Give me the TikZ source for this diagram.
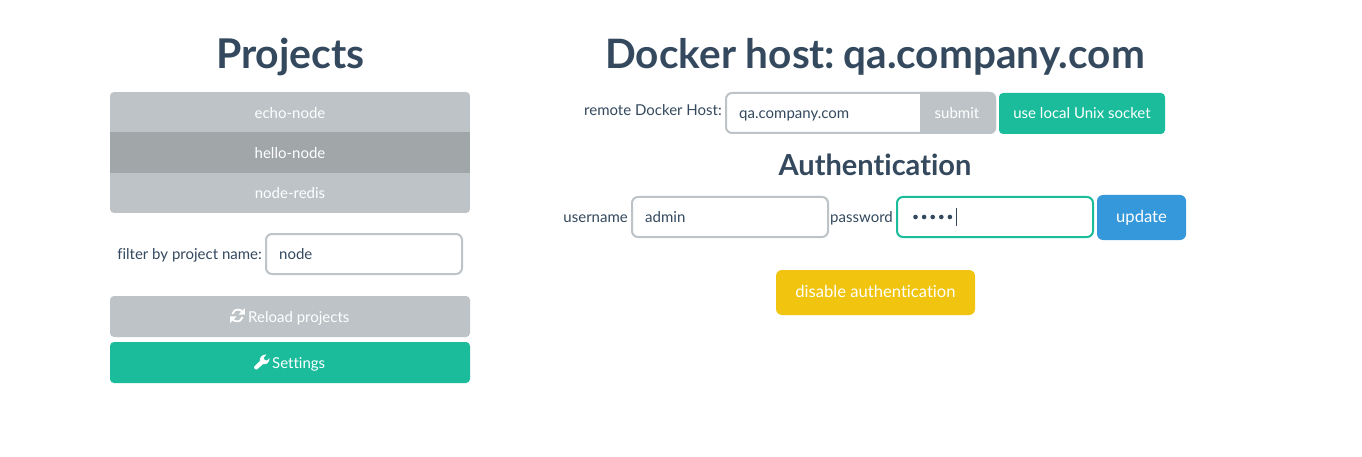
\documentclass[tikz,border=0pt]{standalone}
\usepackage{fontspec}
\setmainfont{Lato}[Ligatures=NoCommon]
\definecolor{ink}{HTML}{34495E}
\definecolor{silver}{HTML}{BDC3C7}
\definecolor{silverdark}{HTML}{A1A6A9}
\definecolor{teal}{HTML}{1ABC9C}
\definecolor{bluebtn}{HTML}{3498DB}
\definecolor{yellowbtn}{HTML}{F1C40F}
\tikzset{
  x=1pt,y=-1pt,
  sized/.style 2 args={minimum width=#1pt,minimum height=#2pt,inner sep=0pt,outer sep=0pt},
  strut/.style={text height=1.14em,text depth=0.08em},
  title/.style={text=ink,font=\bfseries\fontsize{40.5}{48}\selectfont,inner sep=0pt},
  subtitle/.style={text=ink,font=\bfseries\fontsize{29}{35}\selectfont,inner sep=0pt},
  lab/.style={text=ink,font=\fontsize{15}{18}\selectfont,inner sep=0pt,strut},
  btn/.style={rounded corners=4pt,text=white,font=\fontsize{15}{18}\selectfont,strut},
  bigbtn/.style={rounded corners=6pt,text=white,font=\fontsize{16.6}{20}\selectfont,strut},
  field/.style={draw=silver,line width=2pt,fill=white,rounded corners=6pt},
  rowtext/.style={text=white,font=\fontsize{15}{18}\selectfont,inner sep=0pt,strut},
  val/.style={text=ink,font=\fontsize{15}{18}\selectfont,inner sep=0pt,strut,anchor=west},
}
\begin{document}
\begin{tikzpicture}
\useasboundingbox (0,0) rectangle (1362,457);
\fill[white] (0,0) rectangle (1362,457);

\node[title,font=\bfseries\fontsize{41}{48}\selectfont] (projects) at (290.5,57) {Projects};
\node[title] (docker) at (875,57) {Docker host:\hspace{-5pt} qa.company.com};
\node[subtitle] (auth) at (875,165) {Authentication};

% project list
\begin{scope}
\clip[rounded corners=4pt] (110,92) rectangle (470,213);
\fill[silver] (110,92) rectangle (470,132);
\fill[silverdark] (110,132) rectangle (470,173);
\fill[silver] (110,173) rectangle (470,213);
\end{scope}
\node[rowtext] (echo) at (290,113) {echo-node};
\node[rowtext] (hello) at (290,153) {hello-node};
\node[rowtext] (redis) at (290,193) {node-redis};

% filter
\node[lab,anchor=east] (filterlab) at (262,254) {filter by project name:};
\node[field,sized={196}{40},anchor=west] (filter) at (266,254) {};
\node[val] (filterval) at (279,254) {node};

% buttons
\node[btn,fill=silver,sized={360}{41}] (reload) at (290,316.5) {};
\node[rowtext,anchor=west] (reloadtxt) at (248,317) {Reload projects};
\begin{scope}[shift={(237.5,315.5)},white]
  \draw[line width=1.9pt] (5.2,-3.4) arc[start angle=-35,end angle=-165,radius=5.8];
  \draw[line width=1.9pt] (-5.2,3.4) arc[start angle=145,end angle=15,radius=5.8];
  \fill (7.3,-7.3) -- (7.3,-0.9) -- (0.9,-0.9) -- cycle;
  \fill (-7.3,7.3) -- (-7.3,0.9) -- (-0.9,0.9) -- cycle;
\end{scope}

\node[btn,fill=teal,sized={360}{41}] (settings) at (290,362.5) {};
\node[rowtext,anchor=west] (settingstxt) at (272,363) {Settings};
\begin{scope}[shift={(261.5,361.5)},white]
  \fill[line join=round] (-7.5,5.3) -- (-1.6,-0.6) .. controls (-2.2,-3.8) and (0.5,-7.4) .. (5.2,-7.0)
     -- (2.4,-4.2) -- (3.0,-1.6) -- (5.6,-1.0) -- (8.0,-3.6)
     .. controls (8.4,1.2) and (4.4,3.6) .. (1.6,2.6) -- (-4.6,8.0) .. controls (-5.6,8.8) and (-8.6,6.6) .. (-7.5,5.3) -- cycle;
\end{scope}

% remote host
\node[lab,anchor=east] (remotelab) at (722,110) {remote Docker Host:};
\node[draw=silver,line width=2pt,fill=white,rounded corners=6pt,sized={269}{40},anchor=west] (remote) at (726,113) {};
\path[fill=silver,rounded corners=0pt] (920,92) -- (990,92) [rounded corners=6pt] -- (996,92) -- (996,134) [rounded corners=0pt] -- (920,134) -- cycle;
\node[rowtext] (submit) at (957,113) {submit};
\node[val] (remoteval) at (739,113) {qa.company.com};
\node[btn,fill=teal,sized={166}{41}] (unix) at (1082,113.5) {use local Unix socket};

% credentials
\node[lab,anchor=east] (userlab) at (628,217) {username};
\node[field,sized={196}{40},anchor=west] (user) at (632,217) {};
\node[val] (userval) at (645,217) {admin};
\node[lab,anchor=east] (passlab) at (893,217) {password};
\node[field,draw=teal,sized={196}{40},anchor=west] (pass) at (897,217) {};
\foreach \i in {0,1,2,3,4} \fill[ink] (915.5+8.6*\i,217) circle (2.3);
\coordinate (carettop) at (956.5,208);
\coordinate (caretbot) at (956.5,226);
\draw[ink,line width=1pt] (carettop) -- (caretbot);
\node[bigbtn,fill=bluebtn,sized={89}{45}] (update) at (1141.5,217.5) {update};
\node[bigbtn,fill=yellowbtn,sized={199}{45}] (disable) at (875.5,292.5) {disable authentication};
\end{tikzpicture}
\end{document}
